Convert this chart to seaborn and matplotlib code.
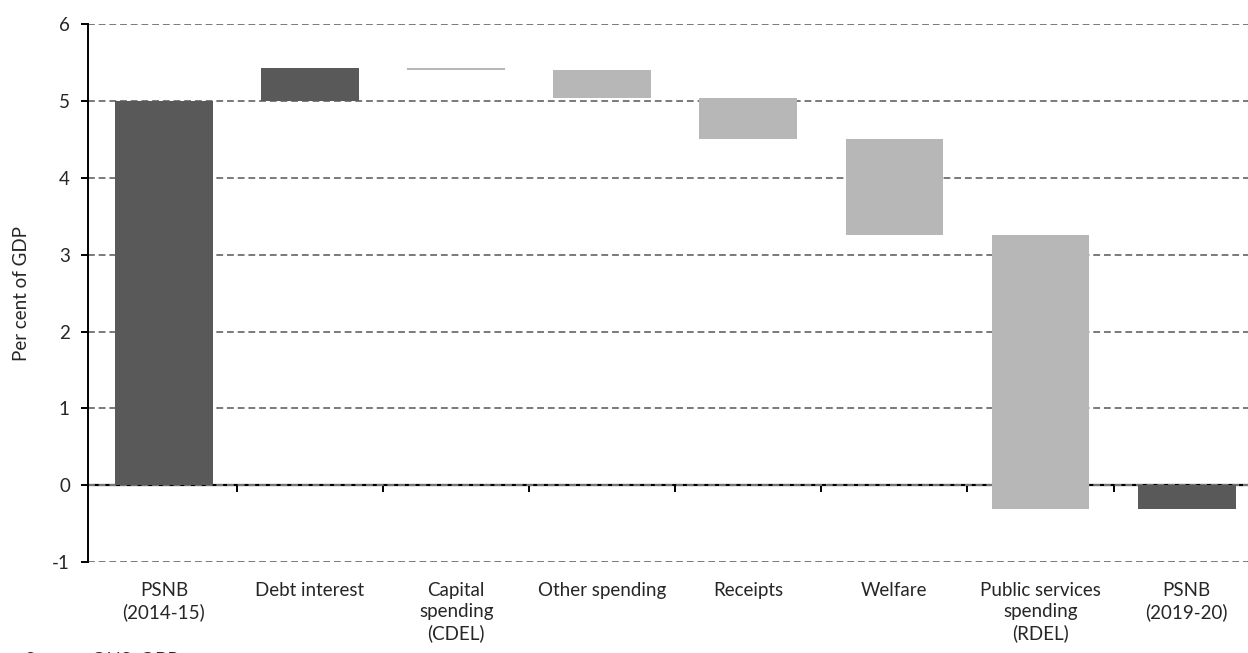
import numpy as np
import pandas as pd
import seaborn as sns
import matplotlib.pyplot as plt

# waterfall: PSNB 2014-15 -> 2019-20, per cent of GDP
categories = ['PSNB\n(2014-15)', 'Debt interest', 'Capital\nspending\n(CDEL)',
              'Other spending', 'Receipts', 'Welfare',
              'Public services\nspending\n(RDEL)', 'PSNB\n(2019-20)']
changes = [5.0, 0.43, -0.03, -0.36, -0.53, -1.25, -3.57, -0.31]
is_total = [True, False, False, False, False, False, False, True]
is_dark = [True, True, False, False, False, False, False, True]

# floating bar bases from the running total
running = np.cumsum([0.0] + changes[:-1])
bases = np.where(is_total, 0.0, running)
df = pd.DataFrame({'cat': categories, 'height': changes, 'base': bases})

sns.set_theme(style='white')
plt.rcParams['font.family'] = ['Lato', 'DejaVu Sans']
plt.rcParams['axes.unicode_minus'] = False

fig = plt.figure(figsize=(12.48, 6.53), dpi=100)
ax = fig.add_axes([0.0705, 0.139, 0.9295, 0.824])

sns.barplot(data=df, x='cat', y='height', bottom=df['base'].values,
            color='#595959', width=0.67, ax=ax, zorder=3)
for patch, dark in zip(ax.patches, is_dark):
    patch.set_facecolor('#595959' if dark else '#b7b7b7')
    patch.set_edgecolor('none')

ax.set_ylim(-1, 6)
ax.set_xlim(-0.52, 7.42)
ax.set_yticks(range(-1, 7))
ax.yaxis.grid(True, linestyle=(0, (3.5, 2)), color='#7a7a7a', linewidth=1.4)
ax.set_axisbelow(True)

for s in ['top', 'right', 'bottom']:
    ax.spines[s].set_visible(False)
ax.spines['left'].set_color('black')
ax.spines['left'].set_linewidth(1.4)
ax.tick_params(axis='y', which='major', left=True, direction='out', length=5,
               width=1.4, color='black', labelsize=13.5, pad=8)
ax.tick_params(axis='x', which='major', bottom=False, labelsize=13.5, pad=8)
ax.set_xlabel('')
ax.set_ylabel('Per cent of GDP', fontsize=13.5, labelpad=16)
for t in ax.get_xticklabels():
    t.set_linespacing(1.3)

# zero line with ticks between categories
sec = ax.secondary_xaxis(1 / 7)
sec.spines['bottom'].set_color('black')
sec.spines['bottom'].set_linewidth(1.6)
sec.set_xticks(np.arange(0.5, len(categories) - 1, 1.0))
sec.tick_params(direction='out', length=5, width=1.4, color='black', labelbottom=False)

fig.text(0.02, 0.003, 'Source: ONS, OBR', fontsize=13.5, va='top')

fig.savefig('out.png', dpi=100)
